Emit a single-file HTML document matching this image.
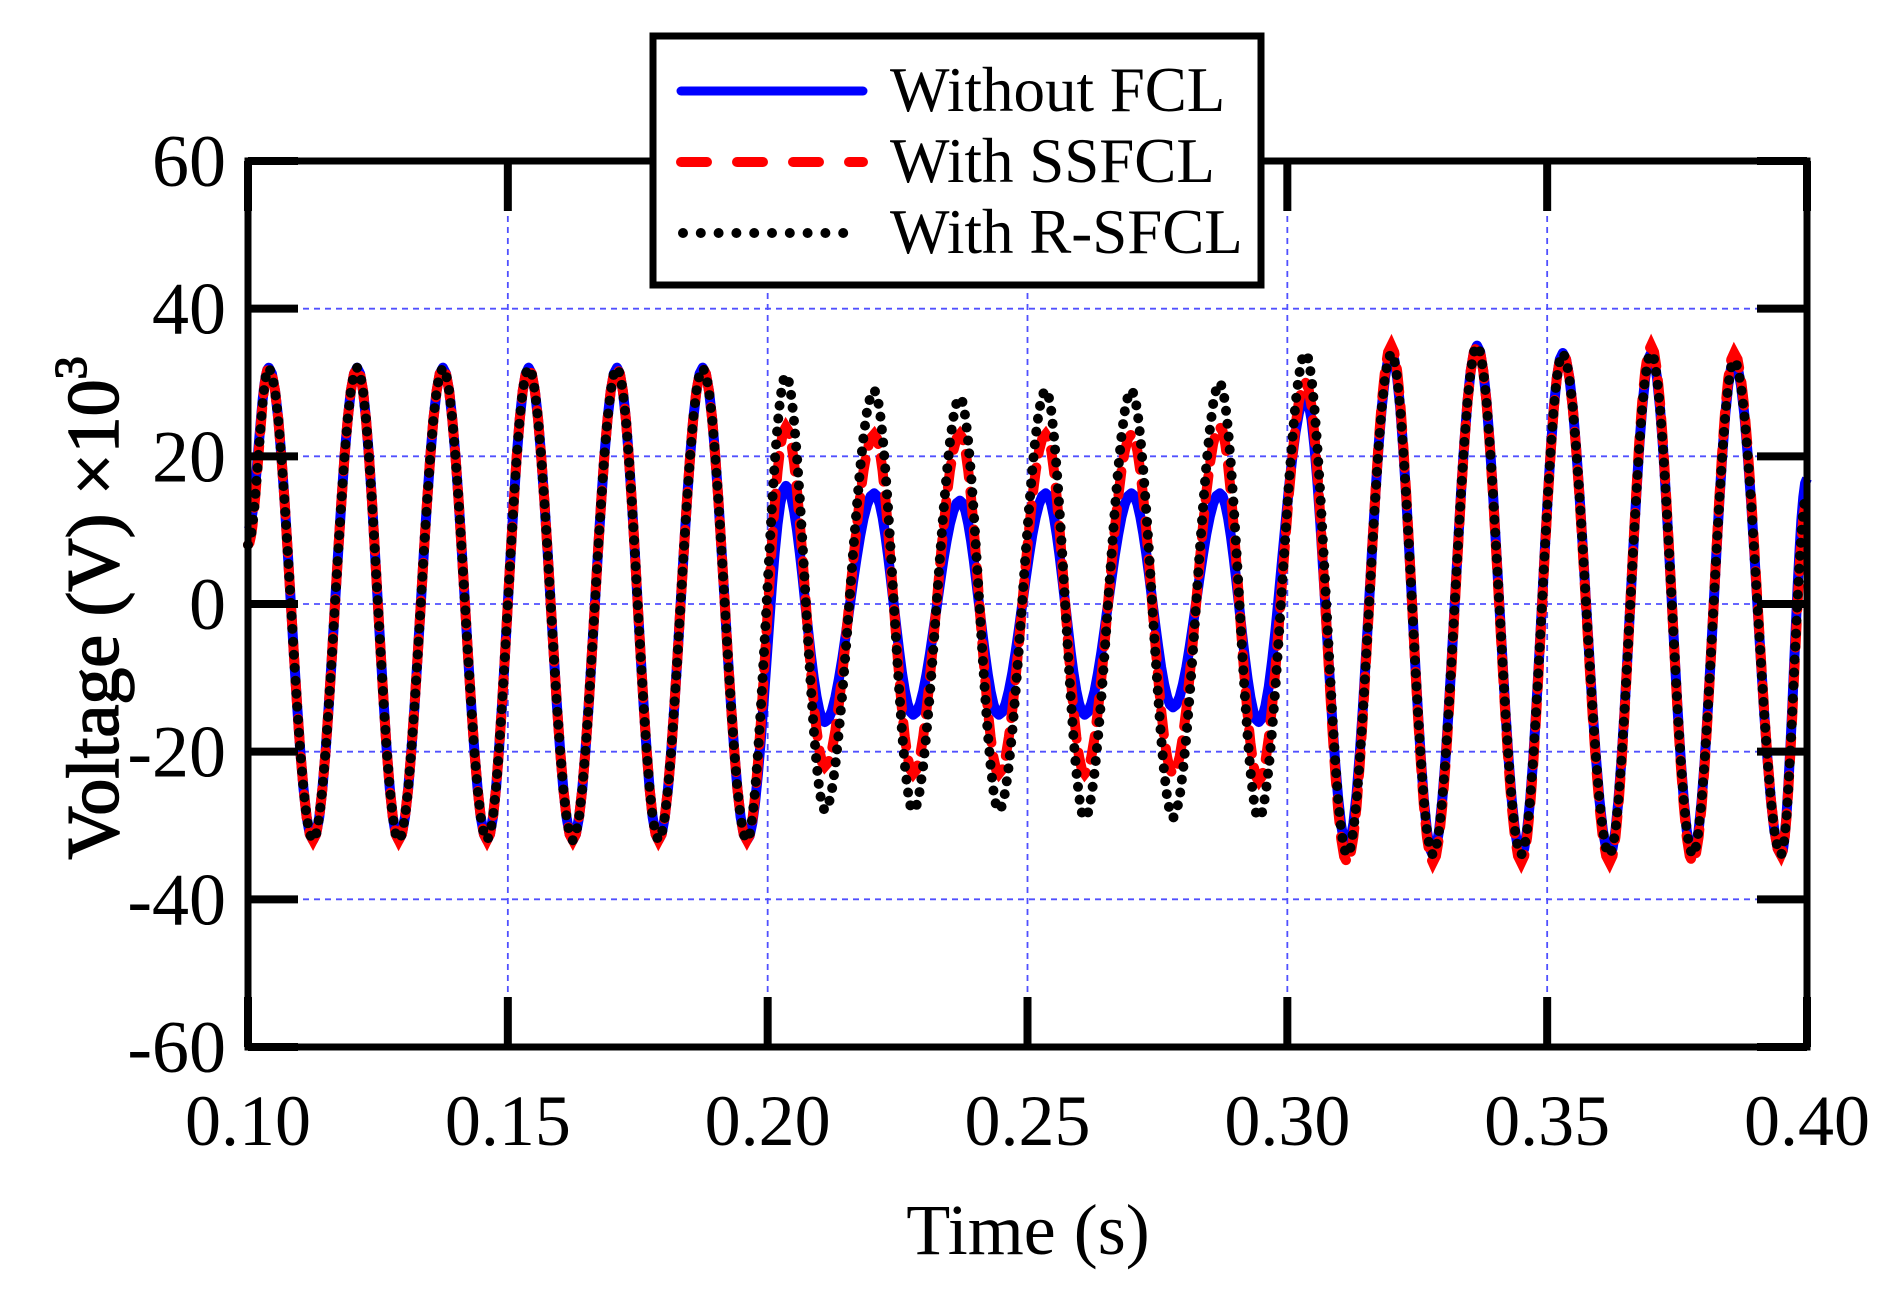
<!DOCTYPE html>
<html><head><meta charset="utf-8"><style>
html,body{margin:0;padding:0;background:#fff;}
svg{display:block;font-family:"Liberation Serif","Times New Roman",serif;}
</style></head><body>
<svg id="chart" width="1899" height="1300" viewBox="0 0 1899 1300">
<g id="grid"></g>
<g id="series"></g>
<g id="frame"></g>
<g id="ticks"></g>
<g id="labels"></g>
<text x="1028" y="1254" font-size="72" text-anchor="middle">Time (s)</text>
<text transform="translate(118,608) rotate(-90)" font-size="74" text-anchor="middle" stroke="#000" stroke-width="1.5">Voltage (V) ×10<tspan font-size="46" dy="-32">3</tspan></text>
<g>
<rect x="653" y="36" width="608" height="249" fill="#fff" stroke="#000" stroke-width="7"/>
<line x1="681" y1="91" x2="863" y2="91" stroke="#0000ff" stroke-width="9" stroke-linecap="round"/>
<line x1="681" y1="162" x2="863" y2="162" stroke="#ff0000" stroke-width="10" stroke-linecap="round" stroke-dasharray="26 30"/>
<line x1="683" y1="233" x2="845" y2="233" stroke="#000" stroke-width="10" stroke-linecap="round" stroke-dasharray="0 17.8"/>
<text x="890" y="111" font-size="63">Without FCL</text>
<text x="890" y="182" font-size="63">With SSFCL</text>
<text x="890" y="253" font-size="63">With R-SFCL</text>
</g>
</svg>
<script>
// Data: extremum times (s) and values (kV) for each series
const extremaTimes = [0.100,0.104,0.1125,0.121,0.129,0.1375,0.146,0.154,0.1625,0.171,0.179,0.1875,0.196,
  0.2035,0.211,0.2205,0.228,0.237,0.2445,0.2535,0.261,0.270,0.278,0.287,0.2945,
  0.3035,0.3115,0.320,0.328,0.3365,0.345,0.353,0.362,0.370,0.378,0.386,0.395,0.400];
const withoutFCL = [10,32,-32,32,-32,32,-32,32,-32,32,-32,32,-32,
  16,-16,15,-15,14,-15,15,-15,15,-14,15,-16,
  28,-33,34,-34,35,-34,34,-34,34,-34,33,-34,17];
const withSSFCL = [8,32,-32,32,-32,32,-32,32,-32,32,-32,32,-32,
  24,-22,23,-23,23,-23,23,-23,23,-23,24,-24,
  30,-35,35,-35,35,-35,34,-35,35,-35,34,-34,14];
const withRSFCL = [8,32,-32,32,-32,32,-32,32,-32,32,-32,32,-32,
  31,-28,29,-28,28,-28,29,-29,29,-29,30,-29,
  34,-34,34,-34,35,-34,34,-34,34,-34,33,-34,15];
const xTicks = [0.10,0.15,0.20,0.25,0.30,0.35,0.40];
const xTickLabels = ["0.10","0.15","0.20","0.25","0.30","0.35","0.40"];
const yTicks = [60,40,20,0,-20,-40,-60];
const yTickLabels = ["60","40","20","0","-20","-40","-60"];

const L=248,R=1807,T=161,B=1047;
const xs=t=>L+(t-0.1)/0.3*(R-L);
const ys=v=>B-(v+60)/120*(B-T);
const NS="http://www.w3.org/2000/svg";
function mk(tag,parent,attrs){const e=document.createElementNS(NS,tag);for(const k in attrs)e.setAttribute(k,attrs[k]);parent.appendChild(e);return e;}
const grid=document.getElementById('grid'),ticks=document.getElementById('ticks'),labels=document.getElementById('labels'),frame=document.getElementById('frame'),series=document.getElementById('series');

xTicks.forEach((t,i)=>{
  const x=xs(t);
  if(i>0&&i<xTicks.length-1){
    const g=mk('line',grid,{x1:x,y1:T,x2:x,y2:B,stroke:'#5050ff','stroke-width':1.8,'stroke-dasharray':'6 5'});
    
    
  }
  const a=mk('line',ticks,{x1:x,y1:B,x2:x,y2:B-50,stroke:'#000','stroke-width':8});
  
  
  const b=mk('line',ticks,{x1:x,y1:T,x2:x,y2:T+50,stroke:'#000','stroke-width':8});
  
  
  const tx=mk('text',labels,{x:x,y:1145,'font-size':72,'text-anchor':'middle'});
  tx.textContent=xTickLabels[i];
  
  
});
yTicks.forEach((v,i)=>{
  const y=ys(v);
  if(i>0&&i<yTicks.length-1){
    const g=mk('line',grid,{x1:L,y1:y,x2:R,y2:y,stroke:'#5050ff','stroke-width':1.8,'stroke-dasharray':'6 5'});
    
    
  }
  const a=mk('line',ticks,{x1:L,y1:y,x2:L+50,y2:y,stroke:'#000','stroke-width':8});
  
  
  const b=mk('line',ticks,{x1:R,y1:y,x2:R-50,y2:y,stroke:'#000','stroke-width':8});
  
  
  const tx=mk('text',labels,{x:226,y:y+25,'font-size':74,'text-anchor':'end'});
  tx.textContent=yTickLabels[i];
  
  
});
const fr=mk('rect',frame,{x:L,y:T,width:R-L,height:B-T,fill:'none',stroke:'#000','stroke-width':7});



function pathFor(vals){
  let d='';
  for(let i=0;i<extremaTimes.length-1;i++){
    const t0=extremaTimes[i],t1=extremaTimes[i+1],v0=vals[i],v1=vals[i+1];
    const n=14;
    for(let k=(i===0?0:1);k<=n;k++){
      const f=k/n,t=t0+(t1-t0)*f,v=v0+(v1-v0)*(1-Math.cos(Math.PI*f))/2;
      d+=(d?'L':'M')+xs(t).toFixed(1)+','+ys(v).toFixed(1);
    }
  }
  return d;
}
const p1=mk('path',series,{d:pathFor(withoutFCL),fill:'none',stroke:'#0000ff','stroke-width':10,'stroke-linejoin':'round'});


const p2=mk('path',series,{d:pathFor(withSSFCL),fill:'none',stroke:'#ff0000','stroke-width':10,'stroke-dasharray':'24 14','stroke-linecap':'round'});


const p3=mk('path',series,{d:pathFor(withRSFCL),fill:'none',stroke:'#000','stroke-width':10,'stroke-dasharray':'0 13','stroke-linecap':'round'});


</script>
</body></html>
